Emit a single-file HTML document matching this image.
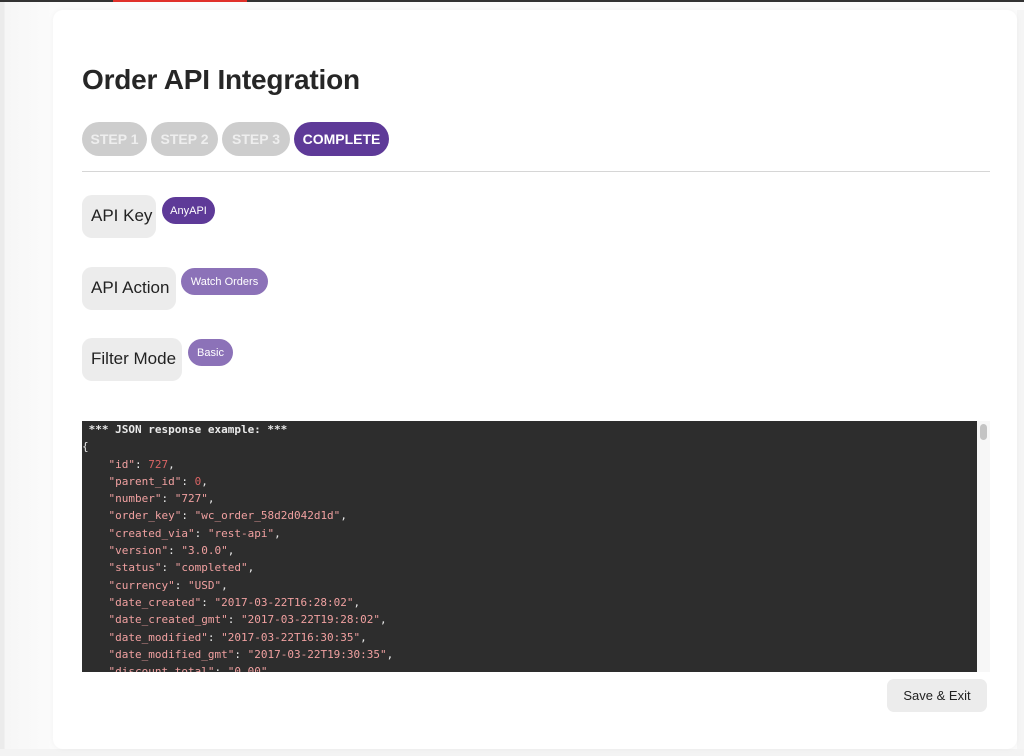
<!DOCTYPE html>
<html><head><meta charset="utf-8"><style>
*{margin:0;padding:0;box-sizing:border-box}
html,body{width:1024px;height:756px;overflow:hidden}
body{background:linear-gradient(90deg,#ebebeb 0,#ebebeb 4px,#f6f6f6 5px,#fbfbfb 53px);position:relative;font-family:"Liberation Sans",sans-serif;color:#222}
.topbar{position:absolute;left:0;top:0;width:1024px;height:2px;background:#333}
.red{position:absolute;left:113px;top:0;width:134px;height:2px;background:#e0302a}
.card{position:absolute;left:53px;top:10px;width:964px;height:739px;background:#fff;border-radius:10px;box-shadow:0 0 6px rgba(0,0,0,.04)}
.rs{position:absolute;left:1017px;top:10px;width:7px;height:746px;background:#f5f5f5}
.bs{position:absolute;left:0;top:749px;width:1024px;height:7px;background:#f3f3f3}
h1{position:absolute;left:82px;top:64px;font-size:28px;font-weight:bold;color:#262626;letter-spacing:-0.2px}
.step{position:absolute;top:122px;height:34px;border-radius:17px;background:#cdcdcd;color:#eee;font-weight:bold;font-size:14px;line-height:34px;text-align:center}
.step.on{background:#5e3a98;color:#fff}
.hr{position:absolute;left:82px;top:171px;width:908px;height:1px;background:#d6d6d6}
.lab{position:absolute;left:82px;height:43px;background:#ececec;border-radius:10px;font-size:17px;line-height:42px;padding-left:9px;color:#222}
.bd{position:absolute;height:27px;border-radius:14px;color:#fff;font-size:11px;line-height:28px;text-align:center}
.code{position:absolute;left:82px;top:421px;width:895px;height:251px;background:#2d2d2d;overflow:hidden;font-family:"DejaVu Sans Mono","Liberation Mono",monospace;font-size:11px;line-height:17.3px;color:#eaeaea;white-space:pre}
.code .k{color:#f0a0a0}.code .n{color:#d96464}
.sb{position:absolute;left:977px;top:421px;width:13px;height:251px;background:#f7f7f7}
.th{position:absolute;left:980px;top:424px;width:7px;height:16px;background:#c4c4c4;border-radius:4px}
.btn{position:absolute;left:887px;top:679px;width:100px;height:33px;background:#ececec;border-radius:7px;font-size:13px;line-height:33px;text-align:center;color:#222}
</style></head><body>
<div class="rs"></div><div class="bs"></div>
<div class="topbar"></div><div class="red"></div>
<div class="card"></div>
<h1>Order API Integration</h1>
<div class="step" style="left:82px;width:65px">STEP 1</div>
<div class="step" style="left:151px;width:67px">STEP 2</div>
<div class="step" style="left:222px;width:68px">STEP 3</div>
<div class="step on" style="left:294px;width:95px">COMPLETE</div>
<div class="hr"></div>
<div class="lab" style="top:195px;width:74px">API Key</div>
<div class="bd" style="left:162px;top:197px;width:53px;background:#5e3a98">AnyAPI</div>
<div class="lab" style="top:267px;width:94px">API Action</div>
<div class="bd" style="left:181px;top:268px;width:87px;background:#8c72b8">Watch Orders</div>
<div class="lab" style="top:338px;width:100px">Filter Mode</div>
<div class="bd" style="left:188px;top:339px;width:45px;background:#8c72b8">Basic</div>
<div class="code"><b> *** JSON response example: ***</b>
{
    <span class="k">"id"</span>: <span class="n">727</span>,
    <span class="k">"parent_id"</span>: <span class="n">0</span>,
    <span class="k">"number"</span>: <span class="k">"727"</span>,
    <span class="k">"order_key"</span>: <span class="k">"wc_order_58d2d042d1d"</span>,
    <span class="k">"created_via"</span>: <span class="k">"rest-api"</span>,
    <span class="k">"version"</span>: <span class="k">"3.0.0"</span>,
    <span class="k">"status"</span>: <span class="k">"completed"</span>,
    <span class="k">"currency"</span>: <span class="k">"USD"</span>,
    <span class="k">"date_created"</span>: <span class="k">"2017-03-22T16:28:02"</span>,
    <span class="k">"date_created_gmt"</span>: <span class="k">"2017-03-22T19:28:02"</span>,
    <span class="k">"date_modified"</span>: <span class="k">"2017-03-22T16:30:35"</span>,
    <span class="k">"date_modified_gmt"</span>: <span class="k">"2017-03-22T19:30:35"</span>,
    <span class="k">"discount_total"</span>: <span class="k">"0.00"</span>,
</div>
<div class="sb"></div><div class="th"></div>
<div class="btn">Save &amp; Exit</div>
</body></html>
